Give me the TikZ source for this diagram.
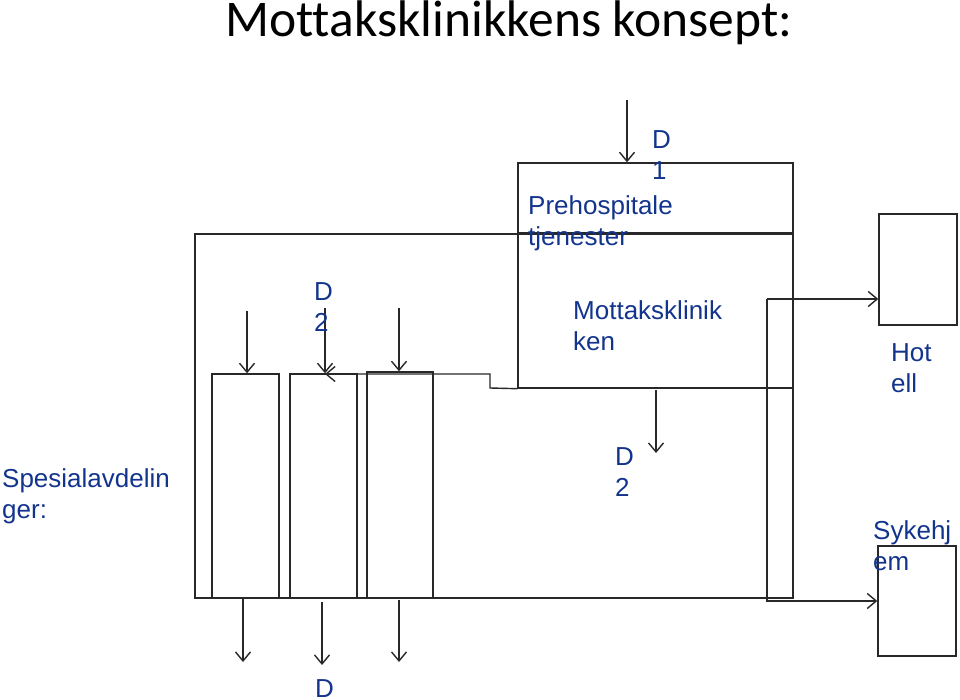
\documentclass[tikz,border=0pt]{standalone}
\usepackage{fontspec}
\setmainfont{Liberation Sans}
\newfontfamily\titlefont[Ligatures=NoCommon]{Carlito}
\usetikzlibrary{arrows.meta}
\definecolor{lblue}{RGB}{18,52,140}
\definecolor{lgray}{RGB}{40,40,40}
\tikzset{
  boxnode/.style={draw=lgray, line width=1.4pt, inner sep=0pt, minimum width=#1},
  lbl/.style={text=lblue, font=\fontsize{26}{31}\selectfont, align=left, anchor=north west, inner sep=0pt},
  conn/.style={draw=lgray, line width=1.4pt, -{Straight Barb[length=9pt,width=15pt,line width=1.4pt]}},
}
\begin{document}
\begin{tikzpicture}[x=1pt,y=-1pt]
\useasboundingbox (0,0) rectangle (960,700);
% title
\node[anchor=base west, inner sep=0pt, font=\titlefont\fontsize{51.5}{60}\selectfont] (title) at (225,37) {Mottaksklinikkens konsept:};
% boxes
\node[boxnode=598pt, minimum height=364pt] (outer) at (494,416) {};
\node[boxnode=275pt, minimum height=70pt] (prehosp) at (655.5,198) {};
\node[boxnode=275pt, minimum height=155pt] (mottak) at (655.5,310.5) {};
\node[boxnode=67pt, minimum height=224pt] (col1) at (245.5,486) {};
\node[boxnode=67pt, minimum height=224pt] (col2) at (323.5,486) {};
\node[boxnode=66pt, minimum height=226pt] (col3) at (400,485) {};
\node[boxnode=78pt, minimum height=111pt] (hotell) at (918,269.5) {};
\node[boxnode=78pt, minimum height=110pt] (sykehjem) at (917,601) {};
% step line from Mottaksklinikken to column 2
\coordinate (stepA) at (490,388);
\coordinate (stepB) at (490,374);
\coordinate (col2top) at (325,374);
\draw[conn] (mottak.south west) -- (stepA) -- (stepB) -- (col2top);
% right-hand connector to Hotell and Sykehjem
\coordinate (rA) at (767,299);
\coordinate (rB) at (767,601);
\draw[conn] (rA) -- (hotell.west |- rA);
\draw[conn] (rA) -- (rB) -- (sykehjem.west);
% incoming arrows
\coordinate (d1s) at (627,100);
\draw[conn] (d1s) -- (d1s |- prehosp.north);
\coordinate (c1s) at (247,311);
\draw[conn] (c1s) -- (c1s |- col1.north);
\coordinate (c2s) at (325,308);
\draw[conn] (c2s) -- (c2s |- col2.north);
\coordinate (c3s) at (399,308);
\draw[conn] (c3s) -- (c3s |- col3.north);
% outgoing arrows
\coordinate (c1e) at (243,662);
\draw[conn] (c1e |- col1.south) -- (c1e);
\coordinate (c2e) at (322,665);
\draw[conn] (322,602) -- (c2e);
\coordinate (c3e) at (399,662);
\draw[conn] (399,600) -- (c3e);
\coordinate (me) at (656,453);
\draw[conn] (656,390) -- (me);
% labels
\node[lbl] (tD1) at (652,130) {D\\1};
\node[lbl] (tPre) at (528,195) {Prehospitale\\tjenester};
\node[lbl] (tD2a) at (314,282) {D\\2};
\node[lbl] (tMot) at (573,300) {Mottaksklinik\\ken};
\node[lbl] (tHot) at (891,343) {Hot\\ell};
\node[lbl] (tSpe) at (2,468) {Spesialavdelin\\ger:};
\node[lbl] (tD2b) at (615,447) {D\\2};
\node[lbl] (tSyk) at (873,520) {Sykehj\\em};
\node[lbl] (tD) at (315,679) {D};
\end{tikzpicture}
\end{document}
